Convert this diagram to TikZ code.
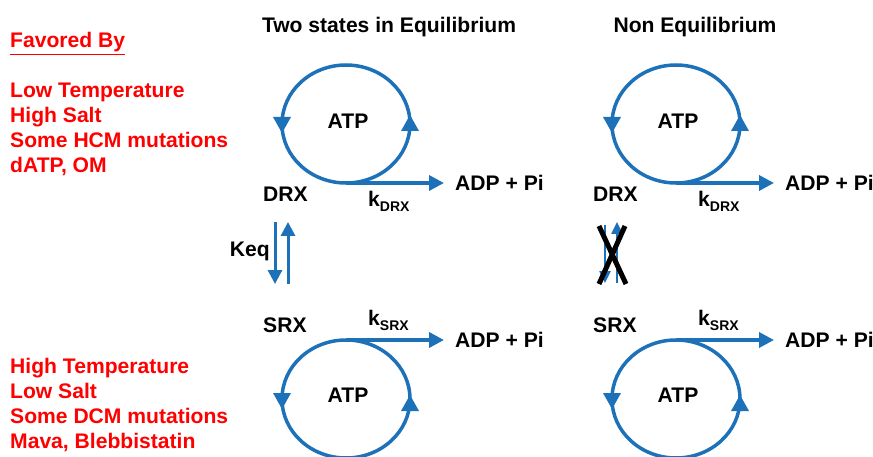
\documentclass[tikz,border=0pt]{standalone}
\usepackage{fontspec}
\setmainfont{Liberation Sans}
\usetikzlibrary{arrows.meta}
\definecolor{myblue}{RGB}{29,113,184}
\definecolor{myred}{RGB}{255,0,0}
\newcommand{\subtxt}[1]{\raisebox{-5pt}{\fontsize{14}{14}\selectfont #1}}
\begin{document}
\begin{tikzpicture}[x=1pt,y=1pt,
 lbl/.style={font=\fontsize{21.1}{24}\selectfont\bfseries, inner sep=0pt},
 redtxt/.style={lbl, text=myred, anchor=base west},
 ring/.style={myblue, line width=3.5pt},
 tipfill/.style={fill=myblue},
 flow/.style={myblue, line width=3.5pt, -{Triangle[length=15pt,width=15pt]}},
 eqarr/.style={myblue, line width=3pt, -{Triangle[length=14pt,width=14pt]}},
 eqarrs/.style={myblue, line width=2.5pt, -{Triangle[length=12pt,width=11pt]}},
 cross/.style={black, line width=5pt},
]
\useasboundingbox (0,0) rectangle (873,-457);

% titles
\node[lbl, anchor=base] (t1) at (389,-33) {Two states in Equilibrium};
\node[lbl, anchor=base] (t2) at (695,-33) {Non Equilibrium};

% red lists
\node[redtxt] (fav) at (10,-48) {\underline{Favored By}};
\node[redtxt] (r1) at (10,-98) {Low Temperature};
\node[redtxt] (r2) at (10,-123) {High Salt};
\node[redtxt] (r3) at (10,-148) {Some HCM mutations};
\node[redtxt] (r4) at (10,-173) {dATP, OM};
\node[redtxt] (r5) at (10,-373) {High Temperature};
\node[redtxt] (r6) at (10,-398) {Low Salt};
\node[redtxt] (r7) at (10,-423) {Some DCM mutations};
\node[redtxt] (r8) at (10,-448) {Mava, Blebbistatin};

% two panels
\foreach \dx/\p in {0/A,330/B}{
  \begin{scope}[xshift=\dx pt]
  % DRX cycle
  \draw[ring] (346,-183) arc[start angle=270, end angle=630, x radius=64pt, y radius=59pt];
  \fill[tipfill] (273,-117) -- (291,-117) -- (282,-133) -- cycle;
  \fill[tipfill] (401,-131) -- (419,-131) -- (410,-115) -- cycle;
  \node[lbl, anchor=base] (atpt\p) at (348,-129) {ATP};
  \node[lbl, anchor=base west] (drx\p) at (263,-202) {DRX};
  \node[lbl, anchor=base west] (kd\p) at (368,-207) {k\subtxt{DRX}};
  \coordinate (bd\p) at (346,-183);
  \node[lbl, anchor=west] (adpd\p) at (455,-183) {ADP + Pi};
  \draw[flow, shorten >=11pt] (bd\p) -- (adpd\p.west);
  % SRX cycle
  \draw[ring] (346,-340) arc[start angle=90, end angle=450, x radius=64pt, y radius=59pt];
  \fill[tipfill] (273,-393) -- (291,-393) -- (282,-409) -- cycle;
  \fill[tipfill] (401,-411) -- (419,-411) -- (410,-395) -- cycle;
  \node[lbl, anchor=base] (atpb\p) at (348,-402) {ATP};
  \node[lbl, anchor=base west] (srx\p) at (263,-332) {SRX};
  \node[lbl, anchor=base west] (ks\p) at (368,-325) {k\subtxt{SRX}};
  \coordinate (bs\p) at (346,-340);
  \node[lbl, anchor=west] (adps\p) at (455,-340) {ADP + Pi};
  \draw[flow, shorten >=11pt] (bs\p) -- (adps\p.west);
  \end{scope}
}

% equilibrium arrows
\node[lbl, anchor=base east] (keq) at (270,-257) {Keq};
\coordinate (e1) at (275,-222);
\coordinate (e2) at (275,-284);
\coordinate (e3) at (288,-284);
\coordinate (e4) at (288,-222);
\draw[eqarr] (e1) -- (e2);
\draw[eqarr] (e3) -- (e4);

% blocked equilibrium
\coordinate (f1) at (605,-225);
\coordinate (f2) at (605,-283);
\coordinate (f3) at (617,-283);
\coordinate (f4) at (617,-222);
\draw[eqarrs] (f1) -- (f2);
\draw[eqarrs] (f3) -- (f4);
\coordinate (x1) at (599,-226);
\coordinate (x2) at (626,-284);
\coordinate (x3) at (625,-226);
\coordinate (x4) at (599,-284);
\draw[cross] (x1) -- (x2);
\draw[cross] (x3) -- (x4);
\end{tikzpicture}
\end{document}
